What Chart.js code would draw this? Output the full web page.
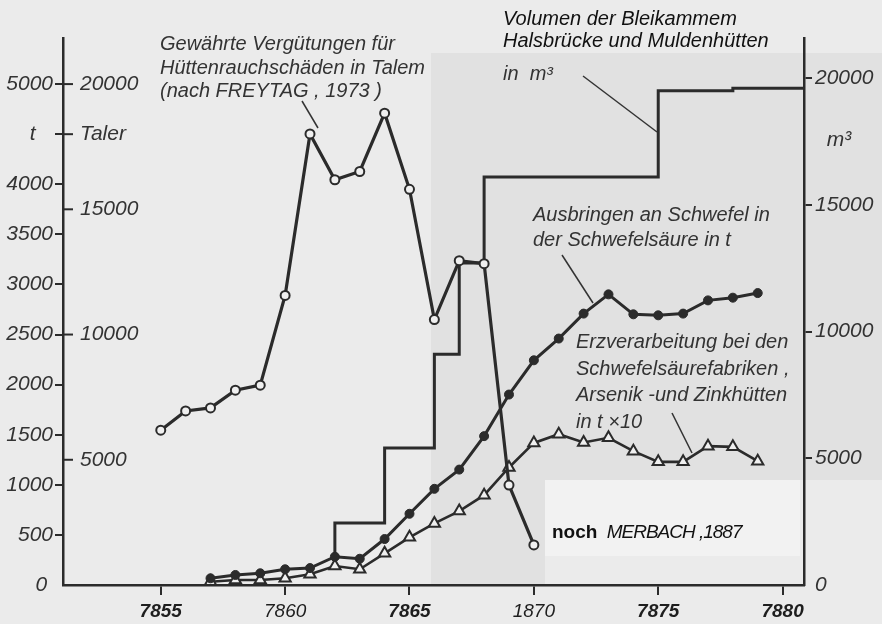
<!DOCTYPE html>
<html>
<head>
<meta charset="utf-8">
<script src="https://cdn.jsdelivr.net/npm/chart.js@4.4.1/dist/chart.umd.min.js"></script>
<style>
  html, body { margin: 0; padding: 0; background: #ebebeb; }
  #wrap { width: 882px; height: 624px; }
</style>
</head>
<body>
<div id="wrap"><canvas id="chart"></canvas></div>
<script>
// --- Werte ---
const talerYears = [1855, 1856, 1857, 1858, 1859, 1860, 1861, 1862, 1863, 1864, 1865, 1866, 1867, 1868, 1869, 1870];
const talerValues = [6180, 6950, 7070, 7780, 7980, 11560, 18010, 16180, 16510, 18840, 15800, 10600, 12950, 12830, 3990, 1600];

const sulfurYears = [1857, 1858, 1859, 1860, 1861, 1862, 1863, 1864, 1865, 1866, 1867, 1868,
  1869, 1870, 1871, 1872, 1873, 1874, 1875, 1876, 1877, 1878, 1879];
const sulfurValues = [67, 100, 117, 157, 169, 282, 262, 459, 711, 960, 1152, 1486,
  1901, 2243, 2460, 2709, 2901, 2702, 2692, 2709, 2841, 2868, 2914];
const oreValues = [33, 50, 50, 67, 107, 189, 157, 316, 476, 615, 738, 897,
  1173, 1418, 1505, 1423, 1469, 1336, 1229, 1229, 1386, 1379, 1236];

const chamberYears = [1862, 1862, 1864, 1866, 1867, 1868, 1875, 1878];
const chamberVolumes = [1100, 2450, 5400, 9100, 12700, 16100, 19500, 19600];

const yearTicks = [1855, 1860, 1865, 1870, 1875, 1880];
const yearTickLabels = ["7855", "7860", "7865", "1870", "7875", "7880"];
const tTicks = [0, 500, 1000, 1500, 2000, 2500, 3000, 3500, 4000, 4500, 5000];
const tTickLabels = ["0 ", "500", "1000", "1500", "2000", "2500", "3000", "3500", "4000", "t   ", "5000"];
const talerTicks = [5000, 10000, 15000, 18000, 20000];
const talerTickLabels = ["5000", "10000", "15000", "Taler", "20000"];
const volumeTicks = [0, 5000, 10000, 15000, 17550, 20000];
const volumeTickLabels = ["0", "5000", "10000", "15000", "  m³", "20000"];

// Achsenbereiche (so gewählt, dass sie zur Vorlage passen)
const X_MIN = 1851.07, X_MAX = 1880.86;
const T_MAX = 5460, TALER_MAX = T_MAX * 4, VOL_MAX = 21580;

const ink = "#2b2b2b";
const fam = '"Liberation Sans", Arial, sans-serif';
Chart.defaults.font.family = fam;
Chart.defaults.color = "#333";

function fixedTicks(values) {
  return (scale) => { scale.ticks = values.map((v) => ({ value: v })); };
}
const hideZeroTick = (c) => (c.tick && c.tick.value === 0 ? "rgba(0,0,0,0)" : ink);

// Hintergrund, Beschriftungen und Hinweislinien
const notes = {
  id: "notes",
  beforeDraw(chart) {
    const ctx = chart.ctx;
    ctx.save();
    ctx.fillStyle = "#ebebeb";
    ctx.fillRect(0, 0, chart.width, chart.height);
    ctx.fillStyle = "#e1e1e1";
    ctx.fillRect(431, 53, 451, 427);
    ctx.fillRect(431, 480, 114, 105);
    ctx.fillStyle = "#f2f2f2";
    ctx.fillRect(545, 480, 255, 76);
    ctx.restore();
  },
  afterDraw(chart) {
    const ctx = chart.ctx;
    const area = chart.chartArea;
    ctx.save();

    // Taler-Teilstriche innen an der linken Achse
    const ts = chart.scales.yTaler;
    ctx.strokeStyle = ink;
    ctx.lineWidth = 2;
    talerTicks.forEach((v) => {
      const y = ts.getPixelForValue(v);
      ctx.beginPath();
      ctx.moveTo(area.left, y);
      ctx.lineTo(area.left + 10, y);
      ctx.stroke();
    });

    const write = (lines, x, y0, step, font, color) => {
      ctx.font = font;
      ctx.fillStyle = color;
      ctx.textAlign = "left";
      ctx.textBaseline = "alphabetic";
      lines.forEach((s, i) => ctx.fillText(s, x, y0 + i * step));
    };
    const scan = "italic 20px " + fam;
    write(["Gewährte Vergütungen für", "Hüttenrauchschäden in Talem", "(nach FREYTAG , 1973 )"], 160, 50, 23.5, scan, "#333");
    write(["Volumen der Bleikammem", "Halsbrücke und Muldenhütten"], 503, 25, 22, "italic 20px " + fam, "#111");
    write(["in  m³"], 503, 80, 0, scan, "#333");
    write(["Ausbringen an Schwefel in", "der Schwefelsäure in t"], 533, 221, 25, scan, "#333");
    write(["Erzverarbeitung bei den", "Schwefelsäurefabriken ,", "Arsenik -und Zinkhütten", "in t ×10"], 576, 348, 26.6, scan, "#333");

    // Quelle unten rechts
    ctx.fillStyle = "#111";
    ctx.font = "bold 19px " + fam;
    ctx.fillText("noch", 552, 538);
    const w = ctx.measureText("noch ").width;
    ctx.font = "italic 19px " + fam;
    ctx.letterSpacing = "-1px";
    ctx.fillText("MERBACH ,1887", 552 + w + 4, 538);
    ctx.letterSpacing = "0px";

    // Hinweislinien
    ctx.strokeStyle = "#333";
    ctx.lineWidth = 1.5;
    [[302, 101, 318, 128], [583, 76, 657, 132], [562, 255, 593, 303], [672, 413, 692, 453]].forEach(([x1, y1, x2, y2]) => {
      ctx.beginPath();
      ctx.moveTo(x1, y1);
      ctx.lineTo(x2, y2);
      ctx.stroke();
    });
    ctx.restore();
  },
};

const chamberPoints = chamberYears.map((x, i) => ({ x, y: chamberVolumes[i] }));
chamberPoints.push({ x: X_MAX, y: chamberVolumes[chamberVolumes.length - 1] });

new Chart(document.getElementById("chart"), {
  type: "line",
  data: {
    datasets: [
      {
        label: "Vergütungen (Taler)",
        yAxisID: "yTaler",
        data: talerYears.map((x, i) => ({ x, y: talerValues[i] })),
        borderColor: ink, borderWidth: 3.2,
        pointStyle: "circle", pointRadius: 4.5,
        pointBackgroundColor: "#f0f0f0", pointBorderColor: ink, pointBorderWidth: 2,
      },
      {
        label: "Schwefel in Schwefelsäure (t)",
        yAxisID: "yT",
        data: sulfurYears.map((x, i) => ({ x, y: sulfurValues[i] })),
        borderColor: ink, borderWidth: 3,
        pointStyle: "circle", pointRadius: 4.5,
        pointBackgroundColor: ink, pointBorderColor: ink, pointBorderWidth: 1,
      },
      {
        label: "Erzverarbeitung (t x 10)",
        yAxisID: "yT",
        data: sulfurYears.map((x, i) => ({ x, y: oreValues[i] })),
        borderColor: ink, borderWidth: 2.6,
        pointStyle: "triangle", pointRadius: 6.5,
        pointBackgroundColor: "#f0f0f0", pointBorderColor: ink, pointBorderWidth: 2,
      },
      {
        label: "Volumen der Bleikammern (m³)",
        yAxisID: "yVol",
        data: chamberPoints,
        stepped: "before",
        borderColor: ink, borderWidth: 3,
        pointRadius: 0,
      },
    ],
  },
  options: {
    responsive: true,
    maintainAspectRatio: false,
    animation: false,
    layout: { padding: { top: 38, left: 0, right: 0, bottom: 0 } },
    plugins: { legend: { display: false }, tooltip: { enabled: false } },
    scales: {
      x: {
        type: "linear", min: X_MIN, max: X_MAX,
        afterBuildTicks: fixedTicks(yearTicks),
        afterFit: (s) => { s.height = 39; },
        border: { display: true, color: ink, width: 2.5 },
        grid: { drawOnChartArea: false, tickLength: 10, color: ink, lineWidth: 2 },
        ticks: {
          autoSkip: false, maxRotation: 0, padding: 5, color: "#1e1e1e",
          callback: (v, i) => yearTickLabels[i],
          font: (c) => ({ size: 19, style: "italic",
            weight: c.tick && [1860, 1870].includes(c.tick.value) ? "normal" : "bold" }),
        },
      },
      yT: {
        type: "linear", position: "left", weight: 1, min: 0, max: T_MAX,
        afterBuildTicks: fixedTicks(tTicks),
        afterFit: (s) => { s.width = 63; },
        border: { display: true, color: ink, width: 2.5 },
        grid: { drawOnChartArea: false, tickLength: 8, color: hideZeroTick, lineWidth: 2 },
        ticks: { padding: 2, callback: (v, i) => tTickLabels[i], font: { size: 21, style: "italic" } },
      },
      yTaler: {
        type: "linear", position: "left", weight: 0, min: 0, max: TALER_MAX,
        afterBuildTicks: fixedTicks(talerTicks),
        afterFit: (s) => { s.width = 0; },
        border: { display: false },
        grid: { display: false },
        ticks: { mirror: true, padding: 17, callback: (v, i) => talerTickLabels[i], font: { size: 21, style: "italic" } },
      },
      yVol: {
        type: "linear", position: "right", min: 0, max: VOL_MAX,
        afterBuildTicks: fixedTicks(volumeTicks),
        afterFit: (s) => { s.width = 78; },
        border: { display: true, color: ink, width: 2.5 },
        grid: {
          drawOnChartArea: false, tickLength: 8, lineWidth: 2,
          color: (c) => (c.tick && (c.tick.value === 0 || c.tick.value === 17550) ? "rgba(0,0,0,0)" : ink),
        },
        ticks: { padding: 3, callback: (v, i) => volumeTickLabels[i], font: { size: 21, style: "italic" } },
      },
    },
  },
  plugins: [notes],
});
</script>
</body>
</html>
